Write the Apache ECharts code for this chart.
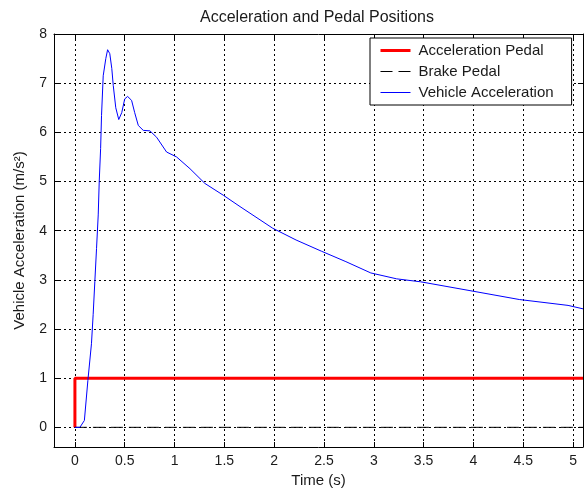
<!DOCTYPE html>
<html>
<head>
<meta charset="utf-8">
<script src="https://cdn.jsdelivr.net/npm/echarts@6/dist/echarts.min.js"></script>
<style>html,body{margin:0;padding:0;background:#fff}#c{width:585px;height:493px}</style>
</head>
<body>
<div id="c"></div>
<script>
const titleText = 'Acceleration and Pedal Positions';
const xName = 'Time (s)';
const yName = 'Vehicle Acceleration (m/s²)';
const seriesNames = ['Acceleration Pedal', 'Brake Pedal', 'Vehicle Acceleration'];
const xTicks = [0, 0.5, 1, 1.5, 2, 2.5, 3, 3.5, 4, 4.5, 5];
const yTicks = [0, 1, 2, 3, 4, 5, 6, 7, 8];

const pedalTime = [0, 0, 5.1];
const pedalValue = [0, 1, 1];
const brakeTime = [0, 5.1];
const brakeValue = [0, 0];
const accTime = [0, 0.05, 0.065, 0.095, 0.13, 0.166, 0.183, 0.2, 0.217, 0.234, 0.244, 0.258, 0.267, 0.284, 0.31, 0.328, 0.35, 0.37, 0.385, 0.41, 0.44, 0.47, 0.5, 0.529, 0.569, 0.6, 0.636, 0.686, 0.753, 0.82, 0.92, 1.02, 1.155, 1.305, 1.49, 1.657, 1.985, 2.22, 2.477, 2.72, 2.97, 3.23, 3.47, 3.966, 4.46, 4.95, 5.1];
const accValue = [0, 0, 0.02, 0.14, 0.95, 1.7, 2.29, 2.97, 3.64, 4.32, 5.0, 5.67, 6.34, 7.15, 7.5, 7.68, 7.6, 7.3, 6.95, 6.5, 6.26, 6.4, 6.68, 6.73, 6.65, 6.4, 6.14, 6.04, 6.03, 5.9, 5.6, 5.5, 5.26, 4.96, 4.72, 4.49, 4.05, 3.81, 3.58, 3.37, 3.14, 3.02, 2.96, 2.78, 2.6, 2.48, 2.41];

const zip = (a, b) => a.map((v, i) => [v, b[i]]);
const FONT = 'Liberation Sans';
const TXT = '#1a1a1a';
const X_MIN = -0.21, X_MAX = 5.1, Y_MIN = -0.4, Y_MAX = 8;

const styles = [
  { color: '#ff0000', width: 3, type: 'solid' },
  { color: '#000000', width: 1, type: [12, 6] },
  { color: '#0000ff', width: 1, type: 'solid' }
];

const gridLine = { show: true, lineStyle: { color: '#000', type: [2, 3], width: 1 } };
function xAxis(pos, main) {
  return {
    type: 'value', position: pos, min: X_MIN, max: X_MAX,
    name: main ? xName : '', nameLocation: 'middle', nameGap: 26,
    nameTextStyle: { fontFamily: FONT, fontSize: 15, color: TXT },
    axisLine: { show: true, onZero: false, lineStyle: { color: '#000', width: 1 } },
    axisTick: { show: true, inside: true, length: 5, customValues: xTicks, lineStyle: { color: '#000' } },
    axisLabel: { show: main, customValues: xTicks, margin: 7, fontFamily: FONT, fontSize: 14, color: TXT },
    splitLine: main ? gridLine : { show: false }
  };
}
function yAxis(pos, main) {
  return {
    type: 'value', position: pos, min: Y_MIN, max: Y_MAX,
    name: main ? yName : '', nameLocation: 'middle', nameGap: 27, nameRotate: 90,
    nameTextStyle: { fontFamily: FONT, fontSize: 15, color: TXT },
    axisLine: { show: true, onZero: false, lineStyle: { color: '#000', width: 1 } },
    axisTick: { show: true, inside: true, length: 5, customValues: yTicks, lineStyle: { color: '#000' } },
    axisLabel: { show: main, customValues: yTicks, margin: 7, fontFamily: FONT, fontSize: 14, color: TXT },
    splitLine: main ? gridLine : { show: false }
  };
}

const chart = echarts.init(document.getElementById('c'), null, { renderer: 'canvas' });
chart.setOption({
  animation: false,
  backgroundColor: '#fff',
  title: { text: titleText, left: 312, textAlign: 'center', top: 5,
    textStyle: { fontFamily: FONT, fontSize: 16, fontWeight: 'normal', color: TXT } },
  grid: { left: 54, right: 2, top: 34, bottom: 43, containLabel: false },
  xAxis: [xAxis('bottom', true), xAxis('top', false)],
  yAxis: [yAxis('left', true), yAxis('right', false)],
  legend: {
    orient: 'vertical', left: 370, top: 38, itemWidth: 30, itemHeight: 12, itemGap: 6,
    padding: [5, 18, 5, 9], backgroundColor: '#fff', borderColor: '#000', borderWidth: 1,
    textStyle: { fontFamily: FONT, fontSize: 15, color: TXT, padding: [0, 0, 0, 3] },
    itemStyle: { opacity: 0 },
    data: seriesNames.map((n, i) => ({ name: n, lineStyle: styles[i], itemStyle: { opacity: 0 } }))
  },
  series: seriesNames.map((n, i) => ({
    name: n, type: 'line',
    data: i === 0 ? zip(pedalTime, pedalValue) : i === 1 ? zip(brakeTime, brakeValue) : zip(accTime, accValue),
    showSymbol: false, symbol: 'none',
    lineStyle: styles[i], itemStyle: { color: styles[i].color }
  }))
});
</script>
</body>
</html>
